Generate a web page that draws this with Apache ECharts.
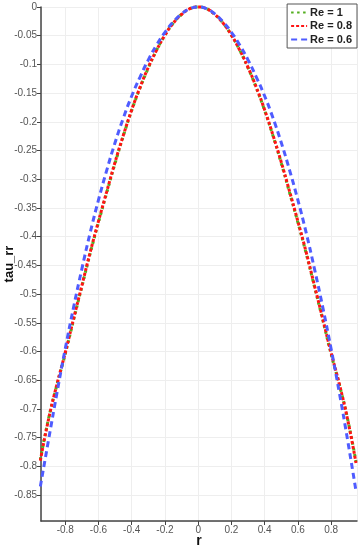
<!DOCTYPE html>
<html>
<head>
<meta charset="utf-8">
<script src="https://cdn.jsdelivr.net/npm/echarts@6/dist/echarts.min.js"></script>
<style>
	html, body { margin: 0; padding: 0; background: #fff; }
	#chart { width: 363px; height: 550px; }
</style>
</head>
<body>
<div id="chart"></div>
<script>
// r 坐标
let r_list = [-0.95, -0.9, -0.85, -0.8, -0.75, -0.7, -0.65, -0.6, -0.55, -0.5, -0.45, -0.4, -0.35, -0.3, -0.25, -0.2, -0.15, -0.1, -0.05,
	0, 0.05, 0.1, 0.15, 0.2, 0.25, 0.3, 0.35, 0.4, 0.45, 0.5, 0.55, 0.6, 0.65, 0.7, 0.75, 0.8, 0.85, 0.9, 0.95];
// Re = 1
let re1_list = [-0.788, -0.716, -0.658, -0.604, -0.545, -0.487, -0.429, -0.375, -0.323, -0.272, -0.224, -0.18, -0.141, -0.106, -0.075, -0.049, -0.028, -0.013, -0.003,
	0, -0.003, -0.013, -0.028, -0.049, -0.075, -0.106, -0.141, -0.18, -0.224, -0.272, -0.323, -0.375, -0.429, -0.487, -0.545, -0.604, -0.658, -0.718, -0.792];
// Re = 0.8
let re08_list = [-0.79, -0.717, -0.657, -0.602, -0.543, -0.485, -0.427, -0.373, -0.321, -0.27, -0.223, -0.179, -0.14, -0.105, -0.075, -0.049, -0.028, -0.013, -0.003,
	0, -0.003, -0.013, -0.028, -0.049, -0.075, -0.105, -0.14, -0.179, -0.223, -0.27, -0.321, -0.373, -0.427, -0.485, -0.543, -0.602, -0.657, -0.719, -0.794];
// Re = 0.6
let re06_list = [-0.835, -0.753, -0.672, -0.595, -0.523, -0.456, -0.393, -0.336, -0.284, -0.236, -0.193, -0.155, -0.122, -0.092, -0.066, -0.044, -0.026, -0.012, -0.003,
	0, -0.003, -0.012, -0.026, -0.044, -0.066, -0.092, -0.122, -0.155, -0.193, -0.236, -0.284, -0.336, -0.393, -0.456, -0.523, -0.595, -0.672, -0.755, -0.843];

let font = '"Liberation Sans", Arial, sans-serif';

function to_pairs(values) {
	return r_list.map((r, i) => [r, values[i]]);
}

let chart = echarts.init(document.getElementById('chart'));
let axis_common = {
	axisLine: { onZero: false, lineStyle: { color: '#444', width: 1.5 } },
	axisTick: { length: 4, lineStyle: { color: '#444' } },
	splitLine: { show: true, lineStyle: { color: '#eeeeee', width: 1 } },
	nameMoveOverlap: false,
	nameTextStyle: { color: '#111', fontWeight: 'bold', fontSize: 13, fontFamily: font },
};
let option = {
	animation: false,
	grid: { left: 41, right: 6, top: 7, bottom: 29, containLabel: false, outerBoundsMode: 'none' },
	legend: {
		right: 6,
		top: 4,
		orient: 'vertical',
		backgroundColor: '#fff',
		borderColor: '#555',
		borderWidth: 1,
		borderRadius: 0,
		padding: [3, 5, 3, 3],
		itemGap: 2.5,
		itemWidth: 16,
		itemHeight: 10,
		itemStyle: { opacity: 0 },
		textStyle: { color: '#222', fontSize: 11, fontWeight: 'bold', fontFamily: font, padding: [0, 0, 0, -2] },
	},
	xAxis: Object.assign({}, axis_common, {
		type: 'value',
		min: -0.946,
		max: 0.956,
		splitNumber: 10,
		name: 'r',
		nameLocation: 'middle',
		nameGap: 13,
		nameTextStyle: { color: '#111', fontWeight: 'bold', fontSize: 14, fontFamily: font },
		axisLabel: { color: '#555', fontSize: 10, fontFamily: font, margin: 4, showMinLabel: false, showMaxLabel: false },
	}),
	yAxis: Object.assign({}, axis_common, {
		type: 'value',
		min: -0.895,
		max: 0,
		splitNumber: 18,
		name: 'tau_rr',
		nameLocation: 'middle',
		nameGap: 25,
		axisLabel: { color: '#555', fontSize: 10, fontFamily: font, margin: 4, showMinLabel: false },
	}),
	series: [
		{
			name: 'Re = 1',
			type: 'line',
			data: to_pairs(re1_list),
			showSymbol: false,
			symbol: 'none',
			smooth: true,
			clip: false,
			lineStyle: { color: '#52ae1e', width: 3, type: [2.5, 3.5] },
			itemStyle: { color: '#52ae1e' },
		},
		{
			name: 'Re = 0.8',
			type: 'line',
			data: to_pairs(re08_list),
			showSymbol: false,
			symbol: 'none',
			smooth: true,
			clip: false,
			lineStyle: { color: '#ff1414', width: 3, type: [3, 2] },
			itemStyle: { color: '#ff1414' },
		},
		{
			name: 'Re = 0.6',
			type: 'line',
			data: to_pairs(re06_list),
			showSymbol: false,
			symbol: 'none',
			smooth: true,
			clip: false,
			lineStyle: { color: '#4f5cff', width: 3, type: [6, 4] },
			itemStyle: { color: '#4f5cff' },
		},
	],
};
chart.setOption(option);
</script>
</body>
</html>
